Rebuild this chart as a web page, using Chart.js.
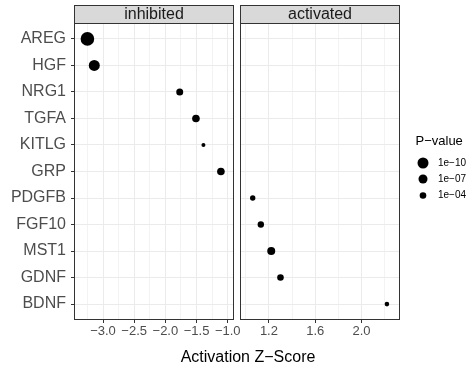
<!DOCTYPE html>
<html>
<head>
<meta charset="utf-8">
<script src="https://cdn.jsdelivr.net/npm/chart.js@4/dist/chart.umd.min.js"></script>
<style>
  body { margin: 0; background: #ffffff; }
  #wrap { position: relative; width: 475px; height: 370px; }
  #wrap canvas { position: absolute; left: 0; top: 0; }
</style>
</head>
<body>
<div id="wrap">
  <canvas id="inhibitedChart" width="475" height="370"></canvas>
  <canvas id="activatedChart" width="475" height="370"></canvas>
</div>
<script>
// genes in plotting order, top to bottom
const genes = ['AREG', 'HGF', 'NRG1', 'TGFA', 'KITLG', 'GRP', 'PDGFB', 'FGF10', 'MST1', 'GDNF', 'BDNF'];

const inhibitedGenes = ['AREG', 'HGF', 'NRG1', 'TGFA', 'KITLG', 'GRP'];
const inhibitedZ = [-3.25, -3.14, -1.77, -1.51, -1.39, -1.11];
const inhibitedP = [1.6e-15, 1e-10, 3.7e-5, 7e-6, 0.019, 7e-6];

const activatedGenes = ['PDGFB', 'FGF10', 'MST1', 'GDNF', 'BDNF'];
const activatedZ = [1.06, 1.13, 1.22, 1.30, 2.22];
const activatedP = [1.5e-3, 1.6e-4, 2.4e-6, 1e-4, 6.8e-3];

const inhibitedTicks = [-3.0, -2.5, -2.0, -1.5, -1.0];
const activatedTicks = [1.2, 1.6, 2.0];

const legendP = [1e-10, 1e-7, 1e-4];
const legendLabels = ['1e\u221210', '1e\u221207', '1e\u221204'];

const FONT = '"Liberation Sans", Arial, Helvetica, sans-serif';
Chart.defaults.font.family = FONT;

// size scale: radius grows with sqrt(-log10 p)
function sizeFor(p) {
    return -0.486 + 1.893 * Math.sqrt(-Math.log10(p));
}

function fmt(v) {
    return v.toFixed(1).replace('-', '\u2212');
}

function xScale(min, max, majors) {
    const step = majors[1] - majors[0];
    return {
        type: 'linear',
        min: min,
        max: max,
        afterBuildTicks: function(scale) {
            const ticks = [];
            const first = majors[0] - step / 2;
            for (let v = first; v <= max; v += step / 2) {
                if (v < min) continue;
                const isMajor = majors.some(m => Math.abs(m - v) < 1e-6);
                ticks.push({ value: v, minor: !isMajor });
            }
            scale.ticks = ticks;
        },
        afterFit: function(scale) { scale.height = 50; },
        border: { display: false },
        grid: {
            color: ctx => (ctx.tick && ctx.tick.minor) ? '#F3F3F3' : '#EBEBEB',
            lineWidth: 1,
            tickLength: 3,
            tickColor: ctx => (ctx.tick && ctx.tick.minor) ? 'rgba(0,0,0,0)' : '#333333'
        },
        ticks: {
            autoSkip: false,
            maxRotation: 0,
            padding: 1,
            color: '#4D4D4D',
            font: { size: 13 },
            callback: function(value, index, ticks) {
                return ticks[index].minor ? '' : fmt(value);
            }
        }
    };
}

function yScale(showLabels) {
    return {
        type: 'linear',
        min: -0.6,
        max: 10.6,
        reverse: true,
        afterBuildTicks: function(scale) {
            scale.ticks = genes.map((g, i) => ({ value: i }));
        },
        afterFit: function(scale) { scale.width = showLabels ? 74 : 0; },
        border: { display: false },
        grid: {
            color: '#EBEBEB',
            lineWidth: 1,
            drawTicks: showLabels,
            tickLength: 3,
            tickColor: '#333333'
        },
        ticks: {
            display: showLabels,
            padding: 5,
            color: '#4D4D4D',
            font: { size: 16 },
            callback: value => genes[value]
        }
    };
}

function points(names, zs, ps) {
    return {
        data: names.map((g, i) => ({ x: zs[i], y: genes.indexOf(g) })),
        pointRadius: ps.map(sizeFor),
        pointBackgroundColor: '#000000',
        pointBorderWidth: 0,
        showLine: false
    };
}

function panelPlugin(label) {
    return {
        id: 'panel',
        afterDraw: function(chart) {
            const ctx = chart.ctx;
            const a = chart.chartArea;
            ctx.save();
            // strip
            ctx.fillStyle = '#D9D9D9';
            ctx.fillRect(a.left, 5, a.right - a.left, a.top - 5);
            ctx.strokeStyle = '#333333';
            ctx.lineWidth = 1;
            ctx.strokeRect(a.left + 0.5, 5.5, a.right - a.left - 1, a.top - 5);
            ctx.fillStyle = '#1A1A1A';
            ctx.font = '16px ' + FONT;
            ctx.textAlign = 'center';
            ctx.textBaseline = 'middle';
            ctx.fillText(label, (a.left + a.right) / 2, 14.5);
            // panel border
            ctx.strokeRect(a.left + 0.5, a.top + 0.5, a.right - a.left - 1, a.bottom - a.top - 1);
            ctx.restore();
        }
    };
}

const extrasPlugin = {
    id: 'extras',
    afterDraw: function(chart) {
        const ctx = chart.ctx;
        ctx.save();
        // axis title
        ctx.fillStyle = '#000000';
        ctx.font = '16px ' + FONT;
        ctx.textAlign = 'center';
        ctx.textBaseline = 'middle';
        ctx.fillText('Activation Z\u2212Score', 248, 358);
        // size legend
        ctx.textAlign = 'left';
        ctx.font = '13px ' + FONT;
        ctx.fillText('P\u2212value', 415.5, 141);
        const ys = [163, 179, 195.5];
        ctx.font = '10px ' + FONT;
        legendP.forEach((p, i) => {
            ctx.beginPath();
            ctx.arc(423, ys[i], sizeFor(p), 0, Math.PI * 2);
            ctx.fill();
            ctx.fillText(legendLabels[i], 438, ys[i]);
        });
        ctx.restore();
    }
};

const baseOptions = {
    responsive: false,
    animation: false,
    events: [],
    plugins: { legend: { display: false }, tooltip: { enabled: false } }
};

new Chart(document.getElementById('inhibitedChart').getContext('2d'), {
    type: 'scatter',
    data: { datasets: [points(inhibitedGenes, inhibitedZ, inhibitedP)] },
    options: Object.assign({}, baseOptions, {
        layout: { padding: { left: 0, top: 23, right: 241, bottom: 0 } },
        scales: {
            x: xScale(-3.465, -0.9, inhibitedTicks),
            y: yScale(true)
        }
    }),
    plugins: [panelPlugin('inhibited')]
});

new Chart(document.getElementById('activatedChart').getContext('2d'), {
    type: 'scatter',
    data: { datasets: [points(activatedGenes, activatedZ, activatedP)] },
    options: Object.assign({}, baseOptions, {
        layout: { padding: { left: 240, top: 23, right: 75, bottom: 0 } },
        scales: {
            x: xScale(0.95, 2.333, activatedTicks),
            y: yScale(false)
        }
    }),
    plugins: [panelPlugin('activated'), extrasPlugin]
});
</script>
</body>
</html>
